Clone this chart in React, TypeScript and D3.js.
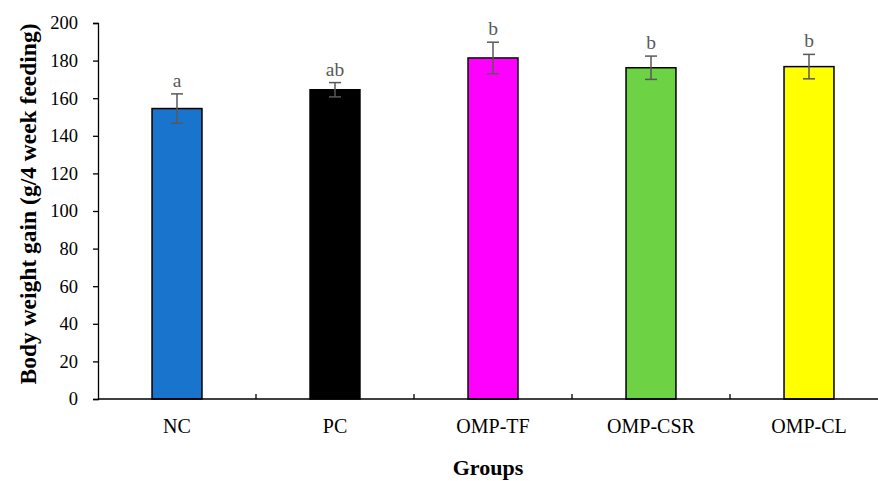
import React, { useRef, useEffect } from 'react';
import * as d3 from 'd3';

const groups = ['NC', 'PC', 'OMP-TF', 'OMP-CSR', 'OMP-CL'];
const gain = [154.5, 164.5, 181.4, 176.2, 176.8];
const errors = [7.8, 3.8, 8.4, 6.2, 6.5];
const letters = ['a', 'ab', 'b', 'b', 'b'];
const colors = ['#1874CD', '#000000', '#FF00FF', '#6DD344', '#FFFF00'];
const yTicks = [0, 20, 40, 60, 80, 100, 120, 140, 160, 180, 200];

export default function App() {
	const svgWidth = 878;
	const svgHeight = 481;
	const d3Chart = useRef<SVGSVGElement>(null);

	useEffect(() => {
		if (!d3Chart.current) return;
		const margin = { top: 23, right: -10, bottom: 82, left: 98 };
		const width = svgWidth - margin.left - margin.right;
		const height = svgHeight - margin.top - margin.bottom;
		const font = '"Liberation Serif", "Times New Roman", serif';

		d3.select(d3Chart.current).selectAll('g').remove();

		const svg = d3
			.select(d3Chart.current)
			.append('g')
			.attr('transform', 'translate(' + margin.left + ',' + margin.top + ')');

		const xScale = d3.scaleBand().domain(groups).range([0, width]).paddingInner(0.684).paddingOuter(0.342);
		const yScale = d3.scaleLinear().domain([0, 200]).range([height, 0]);
		const step = xScale.step();

		/* y axis */
		const yAxis = d3.axisLeft(yScale).tickValues(yTicks).tickSize(5).tickPadding(15).tickFormat(d3.format('d'));
		const yg = svg.append('g').call(yAxis);
		yg.select('.domain').attr('stroke', '#000').attr('stroke-width', 1.3);
		yg.selectAll('line').attr('stroke', '#000').attr('stroke-width', 1.3);
		yg.selectAll('text').style('font-family', font).style('font-size', '18.5px').attr('fill', '#000');

		/* bars */
		svg.selectAll('rect.bar')
			.data(groups)
			.enter()
			.append('rect')
			.attr('class', 'bar')
			.attr('x', (d) => xScale(d))
			.attr('width', xScale.bandwidth())
			.attr('y', (d, i) => yScale(gain[i]))
			.attr('height', (d, i) => yScale(0) - yScale(gain[i]))
			.attr('fill', (d, i) => colors[i])
			.attr('stroke', '#000')
			.attr('stroke-width', 1.5);

		/* error bars */
		const cap = 6;
		groups.forEach((g, i) => {
			const cx = xScale(g) + xScale.bandwidth() / 2;
			const hi = yScale(gain[i] + errors[i]);
			const lo = yScale(gain[i] - errors[i]);
			const eb = svg.append('g').attr('stroke', '#595959').attr('stroke-width', 1.5);
			eb.append('line').attr('x1', cx).attr('x2', cx).attr('y1', hi).attr('y2', lo);
			eb.append('line').attr('x1', cx - cap).attr('x2', cx + cap).attr('y1', hi).attr('y2', hi);
			eb.append('line').attr('x1', cx - cap).attr('x2', cx + cap).attr('y1', lo).attr('y2', lo);
			svg.append('text')
				.attr('x', cx)
				.attr('y', hi - 7)
				.attr('text-anchor', 'middle')
				.style('font-family', font)
				.style('font-size', '19.5px')
				.attr('fill', '#595959')
				.text(letters[i]);
		});

		/* x axis */
		const xg = svg.append('g').attr('transform', 'translate(0,' + height + ')');
		xg.append('line').attr('x1', 0).attr('x2', width).attr('stroke', '#000').attr('stroke-width', 1.3);
		d3.range(1, groups.length).forEach((k) => {
			xg.append('line').attr('x1', k * step).attr('x2', k * step).attr('y1', 0).attr('y2', -5).attr('stroke', '#000').attr('stroke-width', 1.3);
		});
		xg.selectAll('text.cat')
			.data(groups)
			.enter()
			.append('text')
			.attr('class', 'cat')
			.attr('x', (d) => xScale(d) + xScale.bandwidth() / 2)
			.attr('y', 34)
			.attr('text-anchor', 'middle')
			.style('font-family', font)
			.style('font-size', '20px')
			.text((d) => d);

		svg.append('text')
			.attr('x', 488 - margin.left)
			.attr('y', 475 - margin.top)
			.attr('text-anchor', 'middle')
			.style('font-family', font)
			.style('font-size', '22px')
			.style('font-weight', 'bold')
			.text('Groups');

		svg.append('text')
			.attr('text-anchor', 'middle')
			.attr('transform', 'rotate(-90)')
			.attr('y', 36 - margin.left)
			.attr('x', -(204 - margin.top))
			.style('font-family', font)
			.style('font-size', '23.5px')
			.style('font-weight', 'bold')
			.text('Body weight gain (g/4 week feeding)');
	}, []);

	return (
		<svg
			width={svgWidth}
			height={svgHeight}
			ref={d3Chart}
			style={{ position: 'absolute', left: 0, top: 0, background: '#fff' }}
		/>
	);
}
